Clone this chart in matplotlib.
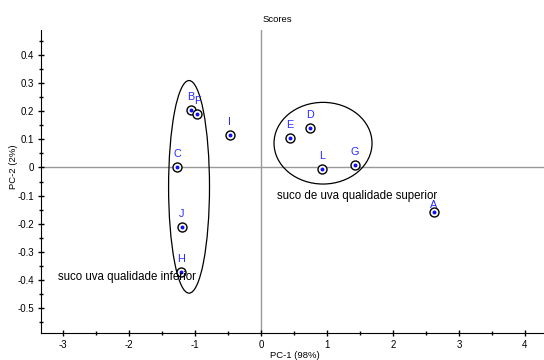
import matplotlib
matplotlib.use("Agg")
from matplotlib import pyplot as plt
from matplotlib.patches import Ellipse
from matplotlib.ticker import MultipleLocator

plt.rcParams['font.family'] = ['Liberation Sans', 'DejaVu Sans']
plt.rcParams['axes.unicode_minus'] = False

# PCA scores
names = ['A', 'B', 'C', 'D', 'E', 'F', 'G', 'H', 'I', 'J', 'L']
pc1 = [2.62, -1.06, -1.27, 0.74, 0.44, -0.965, 1.42, -1.21, -0.47, -1.20, 0.93]
pc2 = [-0.157, 0.204, 0.0, 0.14, 0.104, 0.188, 0.008, -0.372, 0.115, -0.212, -0.005]

# group ellipses: centre x, centre y, width, height
groups = [(-1.09, -0.069, 0.62, 0.755), (0.94, 0.086, 1.485, 0.29)]
group_texts = ['suco uva qualidade inferior', 'suco de uva qualidade superior']
group_text_pos = [(-3.07, -0.388), (0.24, -0.101)]

fig = plt.figure(figsize=(5.44, 3.60), dpi=100)
ax = fig.add_axes([41 / 544, 1 - 333 / 360, 1 - 41 / 544, (333 - 30) / 360])

ax.set_xlim(-3.333, 4.288)
ax.set_ylim(-0.588, 0.488)

ax.axhline(0, color='#999999', lw=1, zorder=1)
ax.axvline(0, color='#999999', lw=1, zorder=1)

for cx, cy, w, h in groups:
    ax.add_patch(Ellipse((cx, cy), w, h, fill=False, ec='black', lw=0.9, zorder=2))

ax.scatter(pc1, pc2, s=42, facecolor='white', edgecolor='black', linewidth=1.0, zorder=3)
ax.scatter(pc1, pc2, s=8, color='#1010ff', linewidth=0, zorder=4)

for n, x, y in zip(names, pc1, pc2):
    off = 5 if n == 'A' else 9.4
    ax.annotate(n, (x, y), xytext=(0, off), textcoords='offset points',
                ha='center', va='center', color='#2a2aff', fontsize=7.8, zorder=5)

for t, (tx, ty) in zip(group_texts, group_text_pos):
    ax.text(tx, ty, t, ha='left', va='center', fontsize=8.3, color='black', zorder=5)

ax.spines['top'].set_visible(False)
ax.spines['right'].set_visible(False)
ax.xaxis.set_major_locator(MultipleLocator(1))
ax.xaxis.set_minor_locator(MultipleLocator(0.5))
ax.yaxis.set_major_locator(MultipleLocator(0.1))
ax.yaxis.set_minor_locator(MultipleLocator(0.05))
ax.yaxis.set_major_formatter(plt.FuncFormatter(lambda v, p: '0' if abs(v) < 1e-9 else '%g' % v))
ax.tick_params(which='major', direction='inout', length=4, width=1, labelsize=7, pad=3)
ax.tick_params(which='minor', direction='inout', length=3, width=1)

fig.text(277 / 544, 1 - 20 / 360, 'Scores', ha='center', va='center', fontsize=6.8)
fig.text(295 / 544, 1 - 355 / 360, 'PC-1 (98%)', ha='center', va='center', fontsize=6.8)
fig.text(13.5 / 544, 1 - 166.5 / 360, 'PC-2 (2%)', ha='center', va='center',
         rotation=90, fontsize=6.8)

fig.savefig('out.png', dpi=100)
